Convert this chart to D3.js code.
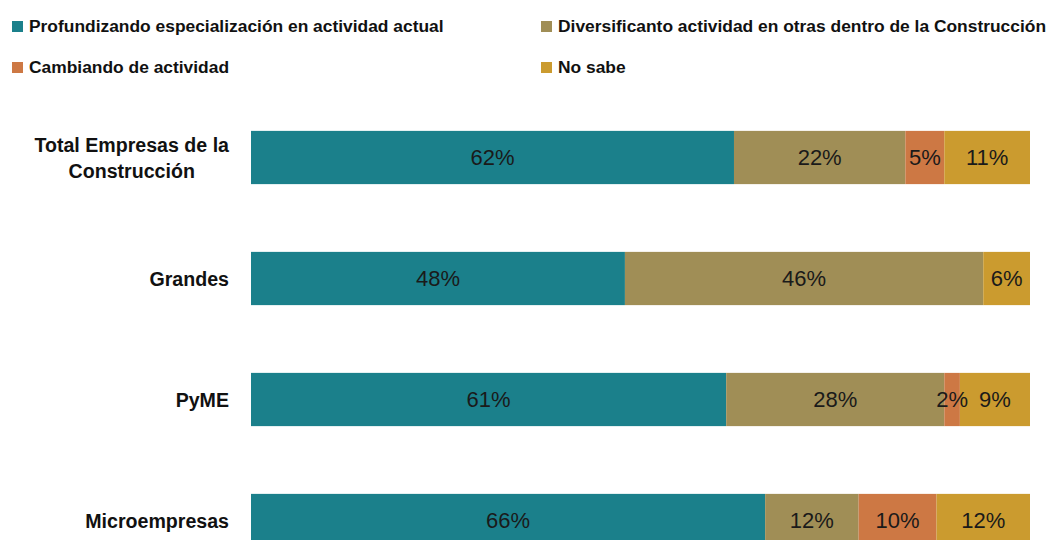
<!DOCTYPE html>
<html>
<head>
<meta charset="utf-8">
<script src="https://cdn.jsdelivr.net/npm/d3@7"></script>
<style>
  html, body { margin: 0; padding: 0; background: #fff; }
  svg { display: block; }
</style>
</head>
<body>
<svg id="chart" width="1048" height="540"></svg>
<script>
// ── Data ──────────────────────────────────────────────
const categories = ['Total Empresas de la|Construcción', 'Grandes', 'PyME', 'Microempresas'];
const seriesNames = [
  'Profundizando especialización en actividad actual',
  'Diversificanto actividad en otras dentro de la Construcción',
  'Cambiando de actividad',
  'No sabe'
];
const profundizando = [62, 48, 61, 66];
const diversificando = [22, 46, 28, 12];
const cambiando = [5, 0, 2, 10];
const noSabe = [11, 6, 9, 12];

const colors = ['#1b808b', '#a08e56', '#cd7844', '#cb9b2f'];

// ── Setup ─────────────────────────────────────────────
const svg = d3.select('#chart');
const font = "'Liberation Sans', Arial, sans-serif";

const keys = ['p', 'd', 'c', 'n'];
const rows = categories.map((c, i) => ({
  cat: c, p: profundizando[i], d: diversificando[i], c: cambiando[i], n: noSabe[i]
}));
const stacked = d3.stack().keys(keys)(rows);
// flat list of non-empty segments, for labels drawn above all bars
const segments = stacked.flatMap(layer => layer.filter(s => s[1] - s[0] > 0));

const x = d3.scaleLinear().domain([0, 100]).range([251, 1030]);
const y = d3.scaleBand()
  .domain(categories)
  .range([97, 581])
  .paddingInner(0.56)
  .paddingOuter(0.28);

// ── Bars ──────────────────────────────────────────────
svg.append('g')
  .selectAll('g')
  .data(stacked)
  .join('g')
  .attr('fill', (d, i) => colors[i])
  .selectAll('rect')
  .data(d => d.filter(s => s[1] - s[0] > 0))
  .join('rect')
  .attr('x', d => x(d[0]))
  .attr('y', d => y(d.data.cat))
  .attr('width', d => x(d[1]) - x(d[0]))
  .attr('height', y.bandwidth());

svg.append('g')
  .selectAll('text')
  .data(segments)
  .join('text')
  .attr('x', d => (x(d[0]) + x(d[1])) / 2)
  .attr('y', d => y(d.data.cat) + y.bandwidth() / 2)
  .attr('dy', '0.36em')
  .attr('text-anchor', 'middle')
  .attr('font-family', font)
  .attr('font-size', 22)
  .attr('fill', '#1a1a1a')
  .text(d => Math.round(d[1] - d[0]) + '%');

// ── Category labels ──────────────────────────────────
const catG = svg.append('g')
  .attr('font-family', font)
  .attr('font-weight', 'bold')
  .attr('font-size', 19.6)
  .attr('fill', '#111');

categories.forEach(c => {
  const lines = c.split('|');
  const cy = y(c) + y.bandwidth() / 2;
  const lh = 26;
  const texts = lines.map((line, i) => catG.append('text')
    .attr('y', cy + (i - (lines.length - 1) / 2) * lh)
    .attr('dy', '0.36em')
    .attr('text-anchor', 'middle')
    .text(line));
  // block right-aligned at 229, lines centred inside it
  const maxW = d3.max(texts, t => t.node().getComputedTextLength());
  texts.forEach(t => t.attr('x', 229 - maxW / 2));
});

// ── Legend ────────────────────────────────────────────
const legendPos = [[12, 26], [541, 26], [12, 67], [541, 67]];
const legend = svg.append('g')
  .selectAll('g')
  .data(seriesNames)
  .join('g')
  .attr('transform', (d, i) => `translate(${legendPos[i][0]},${legendPos[i][1]})`);

legend.append('rect')
  .attr('x', 0)
  .attr('y', -5)
  .attr('width', 11)
  .attr('height', 11)
  .attr('fill', (d, i) => colors[i]);

legend.append('text')
  .attr('x', 17)
  .attr('y', 0)
  .attr('dy', '0.36em')
  .attr('font-family', font)
  .attr('font-weight', 'bold')
  .attr('font-size', 17.4)
  .attr('fill', '#111')
  .text(d => d);
</script>
</body>
</html>
